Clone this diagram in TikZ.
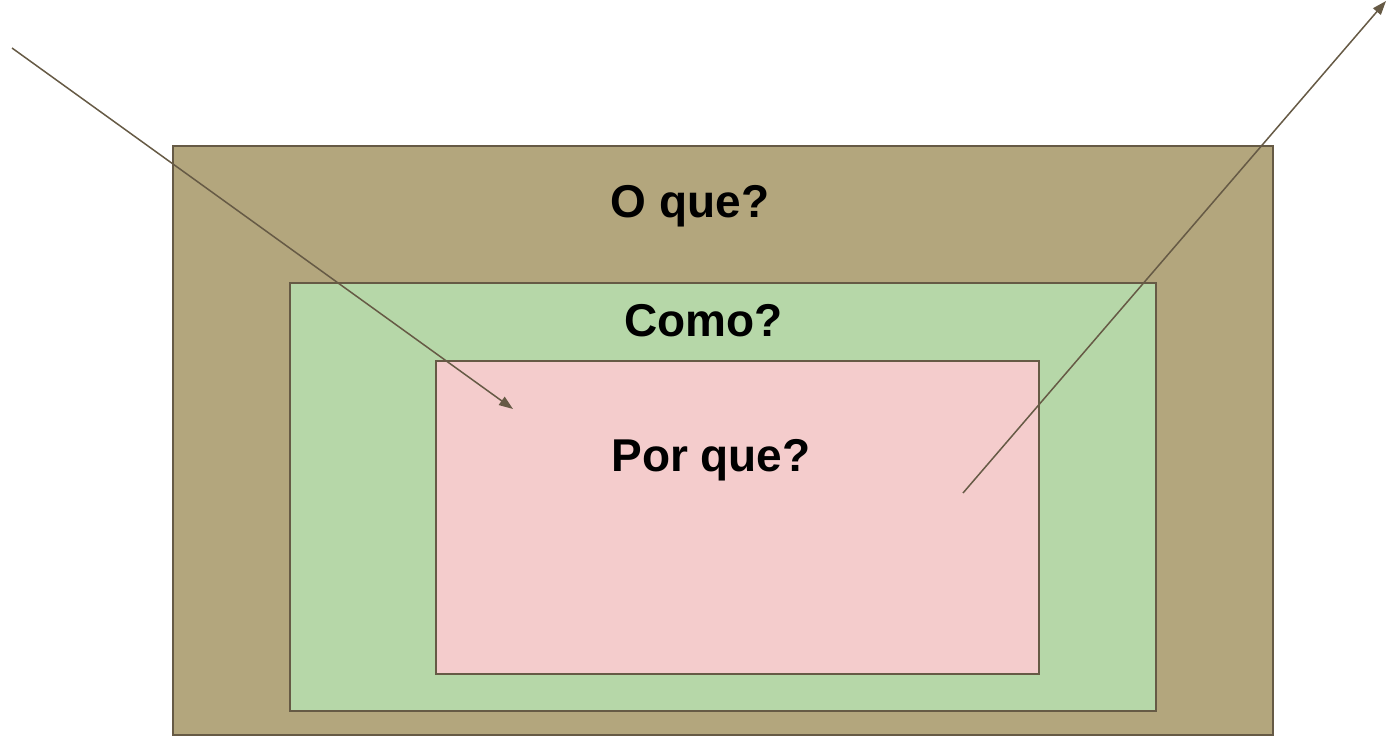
\documentclass[tikz,border=0pt]{standalone}
\usepackage{fontspec}
\setmainfont{Liberation Sans}
\usetikzlibrary{arrows.meta}
\definecolor{outerfill}{HTML}{B3A67D}
\definecolor{greenfill}{HTML}{B6D7A8}
\definecolor{pinkfill}{HTML}{F4CCCC}
\definecolor{strokec}{HTML}{665A45}
\tikzset{
  box/.style={draw=strokec, line width=1.5pt, inner sep=0pt},
  lbl/.style={font=\fontsize{46}{50}\selectfont\bfseries, anchor=base, inner sep=0pt},
  conn/.style={draw=strokec, line width=1.5pt, -{Triangle[length=14pt,width=10pt]}}
}
\begin{document}
\begin{tikzpicture}[x=1pt,y=-1pt]
\useasboundingbox (0,0) rectangle (1388,736);
\node[box, fill=outerfill, minimum width=1100pt, minimum height=589pt] (outer) at (723,440.5) {};
\node[box, fill=greenfill, minimum width=866pt, minimum height=428pt] (green) at (723,497) {};
\node[box, fill=pinkfill, minimum width=603pt, minimum height=313pt] (pink) at (737.5,517.5) {};
\node[lbl] (oque) at (690,217) {O que?};
\node[lbl] (como) at (703.5,336) {Como?};
\node[lbl] (porque) at (711,471.5) {Por que?};
\coordinate (a1s) at (12,48);
\coordinate (a1e) at (513,409);
\coordinate (a2s) at (963,493);
\coordinate (a2e) at (1386,1);
\draw[conn] (a1s) -- (a1e);
\draw[conn] (a2s) -- (a2e);
\end{tikzpicture}
\end{document}
